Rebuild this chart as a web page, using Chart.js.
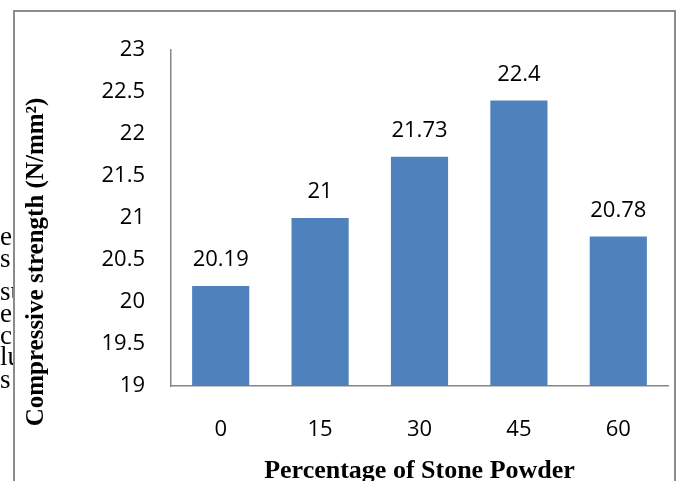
<!DOCTYPE html>
<html>
<head>
<meta charset="utf-8">
<script src="https://cdn.jsdelivr.net/npm/chart.js@4/dist/chart.umd.min.js"></script>
<style>
  html, body { margin: 0; padding: 0; background: #fff; }
  canvas { display: block; }
</style>
</head>
<body>
<canvas id="myChart" width="681" height="481"></canvas>
<script>
// stone powder replacement (%) and measured compressive strength
var categories = ['0', '15', '30', '45', '60'];
var strengthValues = [20.19, 21, 21.73, 22.4, 20.78];
var yMin = 19, yMax = 23, yStep = 0.5;

// bits of body text from the page that sit next to the figure
var sideText = ['ed', 's', 'su', 'e', 'c', 'lu', 's'];
var sideTextY = [245, 267, 300, 322, 344, 365, 388];

var barColor = '#4f81bd';
var axisColor = '#868686';
var tickFont = { family: 'Open Sans', size: 22 };

var decorations = {
  id: 'decorations',
  beforeDraw: function(chart) {
    var ctx = chart.ctx;
    ctx.save();
    ctx.fillStyle = '#fff';
    ctx.fillRect(0, 0, chart.width, chart.height);
    ctx.restore();
  },
  afterDraw: function(chart) {
    var ctx = chart.ctx;
    ctx.save();

    // page text cut off by the frame
    ctx.save();
    ctx.beginPath();
    ctx.rect(0, 0, 13, chart.height);
    ctx.clip();
    ctx.fillStyle = '#000';
    ctx.font = '27px "Liberation Serif"';
    ctx.textAlign = 'left';
    ctx.textBaseline = 'alphabetic';
    sideText.forEach(function(t, i) {
      ctx.fillText(t, 0, sideTextY[i]);
    });
    ctx.restore();

    // frame round the chart
    ctx.strokeStyle = '#8c8c8c';
    ctx.lineWidth = 2;
    ctx.beginPath();
    ctx.moveTo(14, chart.height + 5);
    ctx.lineTo(14, 11);
    ctx.lineTo(675, 11);
    ctx.lineTo(675, chart.height + 5);
    ctx.stroke();

    // value above every bar
    ctx.fillStyle = '#000';
    ctx.font = '22px "Open Sans"';
    ctx.textAlign = 'center';
    ctx.textBaseline = 'middle';
    var meta = chart.getDatasetMeta(0);
    meta.data.forEach(function(bar, i) {
      ctx.fillText(String(strengthValues[i]), bar.x, bar.y - 26);
    });

    // axis titles
    ctx.font = 'bold 26px "Liberation Serif"';
    ctx.textBaseline = 'alphabetic';
    ctx.fillText('Percentage of Stone Powder', (chart.chartArea.left + chart.chartArea.right) / 2, 478);

    ctx.translate(43, 262);
    ctx.rotate(-Math.PI / 2);
    ctx.font = 'bold 25px "Liberation Serif"';
    ctx.fillText('Compressive strength (N/mm\u00b2)', 0, 0);

    ctx.restore();
  }
};

var ctx = document.getElementById('myChart').getContext('2d');
var myChart = new Chart(ctx, {
  type: 'bar',
  data: {
    labels: categories,
    datasets: [{
      data: strengthValues,
      backgroundColor: barColor,
      borderWidth: 0,
      barPercentage: 0.575,
      categoryPercentage: 1
    }]
  },
  options: {
    responsive: false,
    animation: false,
    devicePixelRatio: 1,
    layout: {
      padding: { left: 100, right: 13, top: 50, bottom: 0 }
    },
    plugins: {
      legend: { display: false },
      tooltip: { enabled: false }
    },
    scales: {
      x: {
        grid: { display: false, drawTicks: false },
        border: { display: true, color: axisColor, width: 1.5 },
        ticks: { font: tickFont, color: '#000', padding: 31 },
        afterFit: function(scale) { scale.height = 95; }
      },
      y: {
        min: yMin,
        max: yMax,
        grid: { display: false, drawTicks: false },
        border: { display: true, color: axisColor, width: 1.5 },
        ticks: {
          stepSize: yStep,
          font: tickFont,
          color: '#000',
          padding: 26,
          callback: function(value) { return String(value); }
        },
        afterFit: function(scale) { scale.width = 71; }
      }
    }
  },
  plugins: [decorations]
});
</script>
</body>
</html>
